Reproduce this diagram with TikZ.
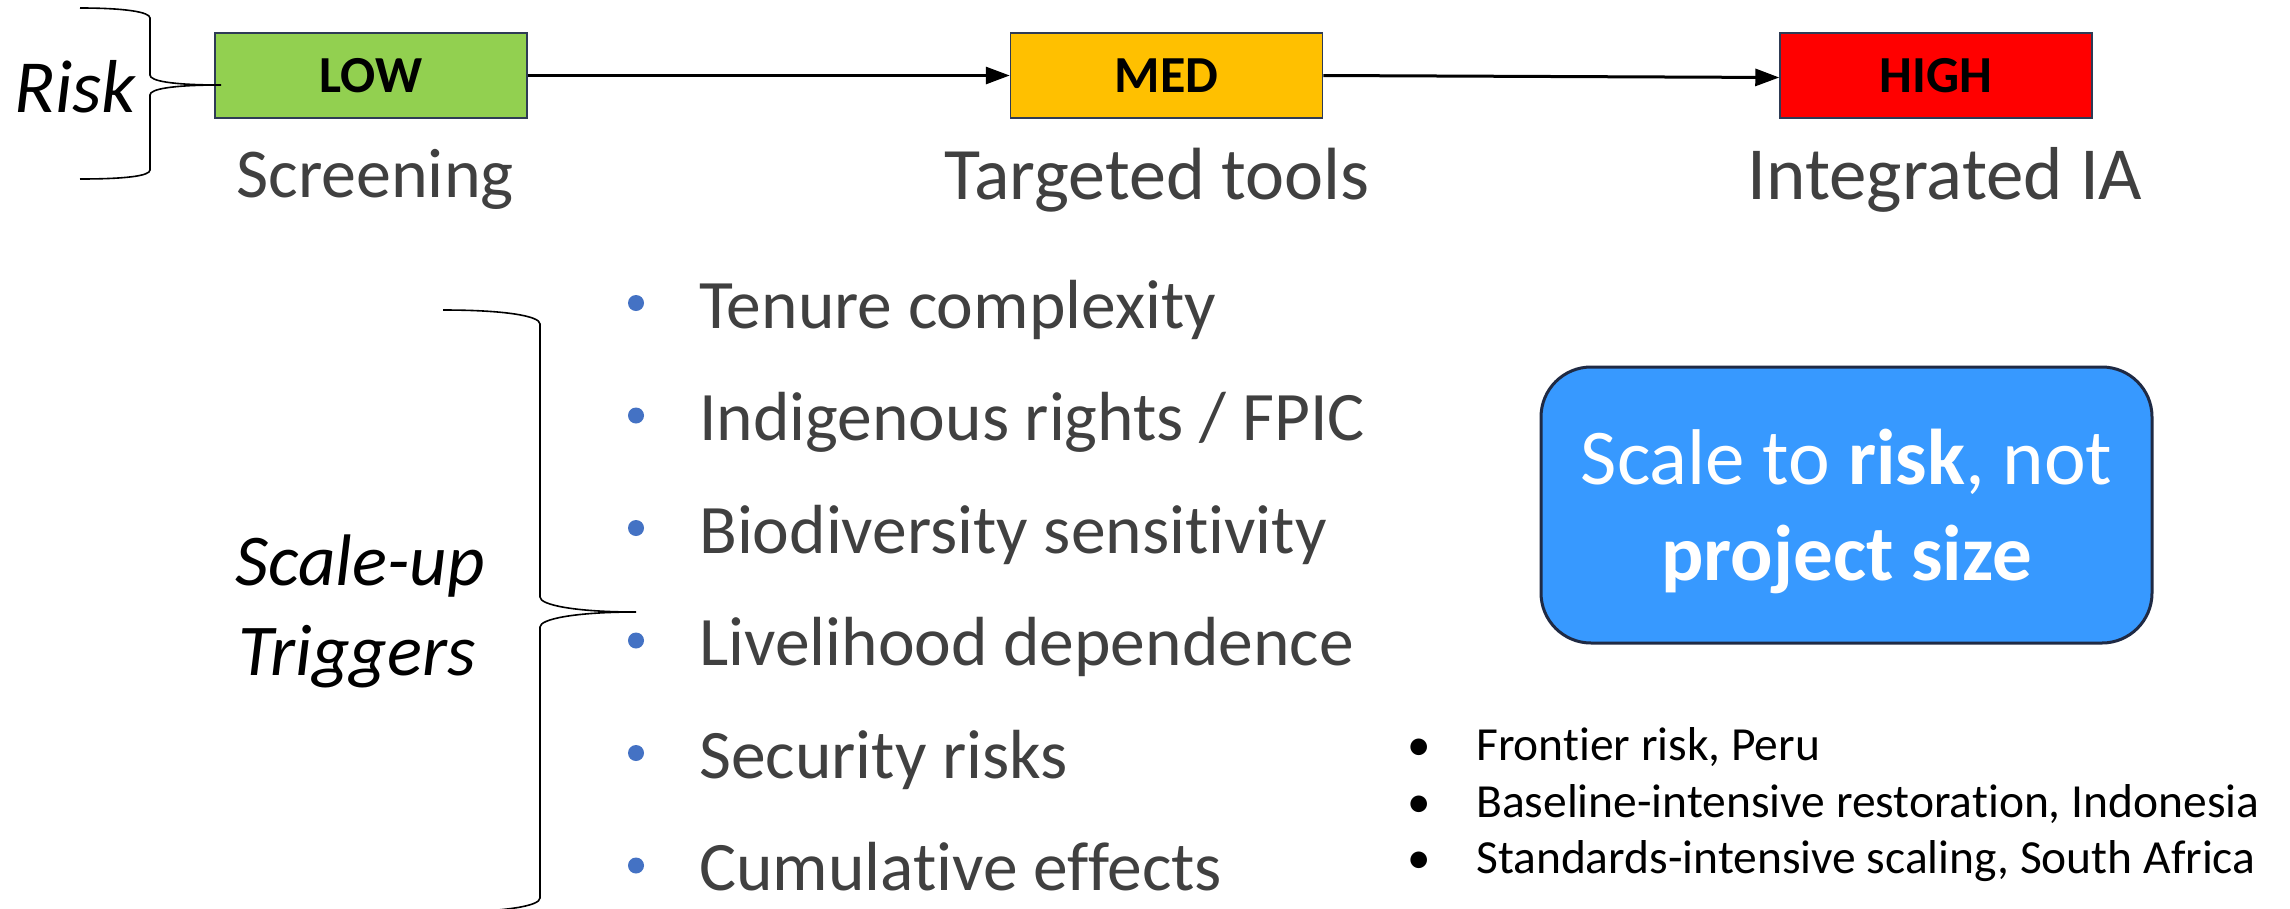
\documentclass[tikz,border=0pt]{standalone}
\usepackage{fontspec}
\setmainfont{Carlito}[Ligatures={TeX,NoCommon}]
\usetikzlibrary{arrows.meta}
\definecolor{lowgreen}{HTML}{92D050}
\definecolor{medorange}{HTML}{FFC000}
\definecolor{highred}{HTML}{FF0000}
\definecolor{boxedge}{HTML}{2E3B55}
\definecolor{msgblue}{HTML}{3799FF}
\definecolor{msgedge}{HTML}{1F2A44}
\definecolor{txtgray}{HTML}{404040}
\definecolor{dotblue}{HTML}{4472C4}
\begin{document}
\begin{tikzpicture}[x=1pt,y=-1pt,
  lvlbox/.style={draw=boxedge, line width=1.5pt, minimum width=312pt, minimum height=85pt, inner sep=0pt, text=black, font=\fontsize{52}{60}\selectfont\bfseries},
  arr/.style={line width=3pt, -{Triangle[length=24pt,width=17pt]}},
  stagelbl/.style={anchor=base, inner sep=0pt, text=txtgray, font=\fontsize{70}{82}\selectfont},
  bigital/.style={anchor=base, inner sep=0pt, text=black, font=\fontsize{73}{86}\selectfont\itshape},
  brace/.style={line width=1.6pt, black},
  tdot/.style={circle, fill=dotblue, inner sep=0pt, minimum size=16pt},
  titem/.style={anchor=base west, inner sep=0pt, text=txtgray, font=\fontsize{69.5}{80}\selectfont},
  msgbox/.style={draw=msgedge, line width=3pt, fill=msgblue, rounded corners=50pt, minimum width=611pt, minimum height=276pt, inner sep=0pt},
  msgtxt/.style={anchor=base, inner sep=0pt, text=white, font=\fontsize{79}{96}\selectfont},
  cbul/.style={anchor=base, inner sep=0pt, text=black, font=\fontsize{47}{54}\selectfont},
  citem/.style={anchor=base west, inner sep=0pt, text=black, font=\fontsize{47.5}{54}\selectfont}
]
\useasboundingbox (0,0) rectangle (2290,908);
\clip (0,0) rectangle (2290,908);
\fill[white] (0,0) rectangle (2290,908);

% level boxes
\node[lvlbox, fill=lowgreen] (low) at (371,75.5) {LOW};
\node[lvlbox, fill=medorange] (med) at (1166.5,75.5) {MED};
\node[lvlbox, fill=highred] (high) at (1936,75.5) {HIGH};
\draw[arr] (low.east) -- (med.west);
\draw[arr] (med.east) -- ([yshift=-2pt]high.west);

% stage labels
\node[stagelbl] (scr) at (375,197) {Screening};
\node[stagelbl, font=\fontsize{74}{86}\selectfont] (tgt) at (1157,199) {Targeted tools};
\node[stagelbl, font=\fontsize{75}{86}\selectfont] (iia) at (1945,199) {Integrated IA};

% Risk brace and label
\node[bigital, font=\fontsize{75}{88}\selectfont\itshape] (risk) at (75,112) {Risk};
\draw[brace] (80,8) .. controls (125,8) and (150,12) .. (150,18) -- (150,75)
  .. controls (150,81) and (172,85) .. (221,85)
  .. controls (172,85) and (150,89) .. (150,95) -- (150,170)
  .. controls (150,176) and (125,179) .. (80,179);

% Scale-up triggers brace and label
\node[bigital] (scaleup) at (360,585) {Scale-up};
\node[bigital] (triggers) at (357,675) {Triggers};
\draw[brace] (443,310) .. controls (505,310) and (540,316) .. (540,324) -- (540,597)
  .. controls (540,605) and (575,612) .. (636,612)
  .. controls (575,612) and (540,619) .. (540,627) -- (540,898)
  .. controls (540,906) and (505,912) .. (443,912);

% trigger list
\node[tdot] (d1) at (636,303) {};
\node[tdot] (d2) at (636,415.5) {};
\node[tdot] (d3) at (636,528) {};
\node[tdot] (d4) at (636,640.5) {};
\node[tdot] (d5) at (636,753) {};
\node[tdot] (d6) at (636,865.5) {};
\node[titem] (t1) at (699,328) {Tenure complexity};
\node[titem] (t2) at (699,440.5) {Indigenous rights / FPIC};
\node[titem] (t3) at (699,553) {Biodiversity sensitivity};
\node[titem] (t4) at (699,665.5) {Livelihood dependence};
\node[titem] (t5) at (699,778) {Security risks};
\node[titem] (t6) at (699,890.5) {Cumulative effects};

% message box
\node[msgbox] (msg) at (1846.5,505) {};
\node[msgtxt] (msg1) at (1846.5,484) {Scale to \textbf{risk}, not};
\node[msgtxt] (msg2) at (1846.5,580) {\textbf{project size}};

% case list
\node[cbul] (b1) at (1419,760) {•};
\node[cbul] (b2) at (1419,817) {•};
\node[cbul] (b3) at (1419,873) {•};
\node[citem] (c1) at (1476,760) {Frontier risk, Peru};
\node[citem] (c2) at (1476,817) {Baseline-intensive restoration, Indonesia};
\node[citem] (c3) at (1476,873) {Standards-intensive scaling, South Africa};
\end{tikzpicture}
\end{document}
